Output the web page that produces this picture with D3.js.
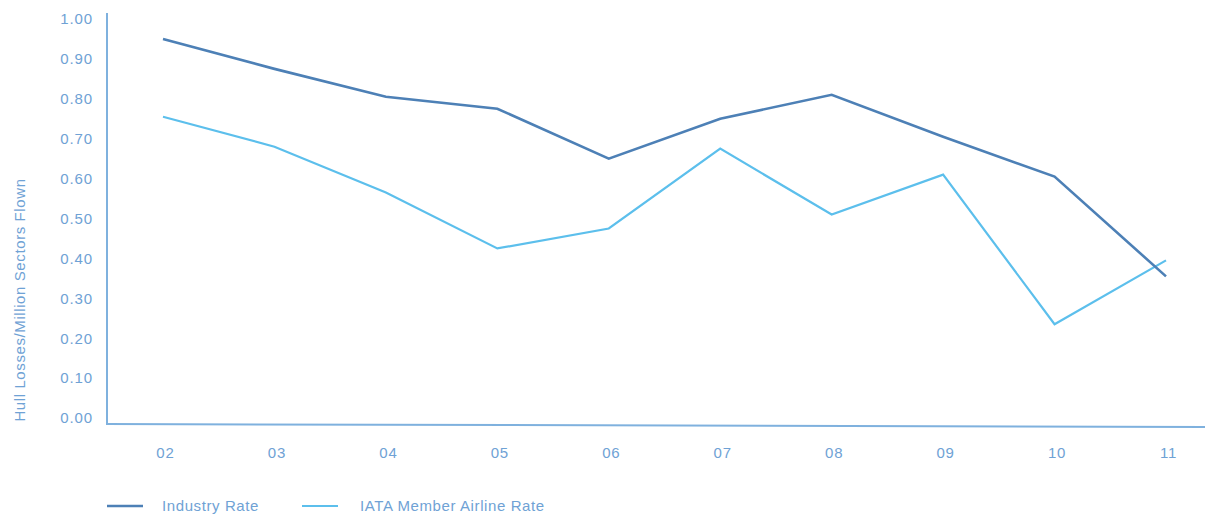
<!DOCTYPE html>
<html>
<head>
<meta charset="utf-8">
<script src="https://cdn.jsdelivr.net/npm/d3@7"></script>
<style>
  body { margin: 0; background: #fff; }
  svg { display: block; font-family: "Liberation Sans", Arial, sans-serif; }
  .tick text { fill: #6fa2d5; }
</style>
</head>
<body>
<svg id="chart" width="1205" height="517"></svg>
<script>
// years on the x axis
const years = ['02', '03', '04', '05', '06', '07', '08', '09', '10', '11'];
// hull losses per million sectors flown
const industryRate = [0.95, 0.875, 0.805, 0.775, 0.65, 0.75, 0.81, 0.705, 0.605, 0.355];
const iataRate = [0.755, 0.68, 0.565, 0.425, 0.475, 0.675, 0.51, 0.61, 0.235, 0.395];
const yTicks = [0, 0.1, 0.2, 0.3, 0.4, 0.5, 0.6, 0.7, 0.8, 0.9, 1.0];

const series = [
  { name: 'Industry Rate', values: industryRate, color: '#4d80b6', width: 2.6 },
  { name: 'IATA Member Airline Rate', values: iataRate, color: '#5cbfec', width: 2.2 }
];

const svg = d3.select('#chart');
const axisColor = '#7fb1de';
const textColor = '#6fa2d5';

const x = d3.scalePoint().domain(years).range([163, 1166]);
const y = d3.scaleLinear().domain([0, 1]).range([418, 19]);

// y axis labels
const yAxis = svg.append('g')
  .attr('transform', 'translate(93,0)')
  .call(d3.axisLeft(y).tickValues(yTicks).tickSize(0).tickPadding(0).tickFormat(d3.format('.2f')));
yAxis.select('.domain').remove();
yAxis.selectAll('text').attr('font-size', 15).attr('letter-spacing', 0.9);

// x axis labels
const xAxis = svg.append('g')
  .attr('transform', 'translate(2,447)')
  .call(d3.axisBottom(x).tickSize(0).tickPadding(0));
xAxis.select('.domain').remove();
xAxis.selectAll('text').attr('font-size', 15).attr('letter-spacing', 0.8);

// axis lines
svg.append('line')
  .attr('x1', 107).attr('x2', 107).attr('y1', 13).attr('y2', 424)
  .attr('stroke', axisColor).attr('stroke-width', 2);
svg.append('line')
  .attr('x1', 106).attr('x2', 1205).attr('y1', 424).attr('y2', 427)
  .attr('stroke', axisColor).attr('stroke-width', 2);

// y title
svg.append('text')
  .attr('transform', 'translate(25,300) rotate(-90)')
  .attr('text-anchor', 'middle')
  .attr('font-size', 15)
  .attr('letter-spacing', 0.6)
  .attr('fill', textColor)
  .text('Hull Losses/Million Sectors Flown');

const line = d3.line()
  .x((d, i) => x(years[i]))
  .y(d => y(d));

// IATA first so industry sits on top
series.slice().reverse().forEach(s => {
  svg.append('path')
    .datum(s.values)
    .attr('d', line)
    .attr('fill', 'none')
    .attr('stroke', s.color)
    .attr('stroke-width', s.width)
    .attr('stroke-linejoin', 'miter');
});

// legend
const legendX = [107, 302];
const legend = svg.selectAll('.legend')
  .data(series)
  .join('g')
  .attr('class', 'legend')
  .attr('transform', (d, i) => `translate(${legendX[i]},506)`);
legend.append('line')
  .attr('x1', 0).attr('x2', 36)
  .attr('stroke', d => d.color)
  .attr('stroke-width', d => d.width);
legend.append('text')
  .attr('x', (d, i) => i === 0 ? 55 : 58).attr('dy', '0.35em')
  .attr('font-size', 15)
  .attr('letter-spacing', 0.6)
  .attr('fill', textColor)
  .text(d => d.name);
</script>
</body>
</html>
